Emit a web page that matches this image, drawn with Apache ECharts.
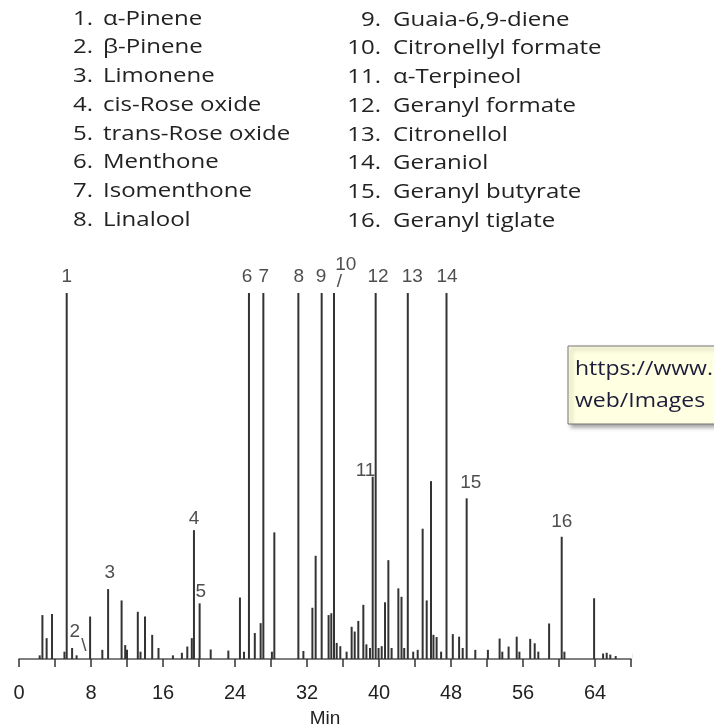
<!DOCTYPE html>
<html>
<head>
<meta charset="utf-8">
<title>Chromatogram</title>
<script src="https://cdn.jsdelivr.net/npm/echarts@6/dist/echarts.min.js"></script>
<style>html,body{margin:0;padding:0;background:#fff;}</style>
</head>
<body>
<div id="main" style="width:714px;height:727px;"></div>
<script type="text/javascript">
    // compound list (legend)
    var compoundNames = [
        'α-Pinene', 'β-Pinene', 'Limonene', 'cis-Rose oxide', 'trans-Rose oxide',
        'Menthone', 'Isomenthone', 'Linalool', 'Guaia-6,9-diene', 'Citronellyl formate',
        'α-Terpineol', 'Geranyl formate', 'Citronellol', 'Geraniol', 'Geranyl butyrate',
        'Geranyl tiglate'
    ];

    // retention time (min) of every peak
    var peakTimes = [
        2.3, 2.6, 3.07, 3.67, 5.05, 5.3, 5.9, 6.4, 7.9, 9.26,
        9.9, 11.4, 11.8, 12.0, 13.2, 13.5, 14.0, 14.8, 15.5, 17.1,
        18.1, 18.7, 19.2, 19.44, 20.07, 21.3, 23.26, 24.55, 25.0, 25.55,
        26.2, 26.85, 27.15, 28.1, 28.37, 31.04, 31.6, 32.6, 32.96, 33.63,
        34.4, 34.7, 35.0, 35.3, 35.7, 36.4, 36.96, 37.3, 37.7, 38.26,
        38.6, 39.0, 39.3, 39.63, 39.95, 40.3, 40.67, 41.04, 41.4, 42.15,
        42.5, 42.8, 43.2, 43.8, 44.3, 44.85, 45.3, 45.78, 46.05, 46.4,
        46.9, 47.5, 48.2, 48.9, 49.3, 49.74, 50.7, 52.1, 53.4, 53.7,
        54.4, 55.3, 55.6, 56.8, 57.3, 57.7, 58.9, 60.3, 60.6, 63.9,
        64.9, 65.3, 65.7, 66.3, 68.3
    ];
    // peak height (% of full scale; 100 = off scale)
    var peakHeights = [
        1.0, 12.0, 5.7, 12.3, 2.0, 100, 3.0, 1.0, 11.6, 2.5,
        19.1, 16.0, 3.8, 2.5, 12.9, 2.0, 11.6, 6.6, 3.0, 1.0,
        1.7, 3.4, 5.7, 35.2, 15.2, 2.6, 2.3, 16.8, 2.0, 100,
        7.1, 9.8, 100, 2.0, 34.6, 100, 2.2, 14.0, 28.2, 100,
        12.0, 12.5, 100, 4.4, 3.5, 2.0, 8.8, 7.5, 10.4, 14.8,
        4.0, 3.0, 49.8, 100, 3.0, 3.5, 15.5, 27.0, 3.0, 19.3,
        17.0, 3.0, 100, 2.0, 2.5, 35.6, 16.0, 48.6, 6.6, 6.0,
        2.0, 100, 6.8, 6.1, 3.0, 43.9, 2.5, 2.5, 5.6, 2.0,
        3.4, 6.1, 2.0, 5.5, 4.3, 2.0, 9.7, 33.4, 2.0, 16.6,
        1.5, 1.7, 1.2, 0.8, 1.5
    ];

    // peak number labels
    var labelTexts = ['1', '2', '\\', '3', '4', '5', '6', '7', '8', '9', '10', '/', '11', '12', '13', '14', '15', '16'];
    var labelTimes = [5.3, 6.2, 7.2, 10.1, 19.45, 20.2, 25.35, 27.2, 31.1, 33.55, 36.3, 35.6, 38.5, 39.9, 43.7, 47.55, 50.2, 60.3];
    var labelHeights = [104.4, 7.4, 3.6, 23.6, 38.4, 18.4, 104.4, 104.4, 104.4, 104.4, 107.7, 103, 51.3, 104.4, 104.4, 104.4, 48.2, 37.4];

    var myChart = echarts.init(document.getElementById('main'));

    var peakData = peakTimes.map(function (t, i) { return [t, peakHeights[i]]; });
    var labelData = labelTexts.map(function (s, i) {
        return { name: s, value: [labelTimes[i], labelHeights[i]] };
    });

    // legend text, two columns (source image is a bit stretched sideways)
    var legendFont = '20px "Open Sans"';
    var graphics = [];
    compoundNames.forEach(function (name, i) {
        var col = i < 8 ? 0 : 1;
        var row = i % 8;
        var y = (col === 0 ? 19 : 20) + row * 28.7;
        graphics.push({
            type: 'text', x: col === 0 ? 93 : 381, y: y, scaleX: 1.2,
            style: { text: (i + 1) + '.', font: legendFont, fill: '#222', align: 'right', verticalAlign: 'middle' }
        });
        graphics.push({
            type: 'text', x: col === 0 ? 103 : 393, y: y, scaleX: 1.2,
            style: { text: name, font: legendFont, fill: '#222', verticalAlign: 'middle' }
        });
    });
    // link tooltip left on the screenshot
    graphics.push({
        type: 'group', x: 568, y: 346,
        children: [
            { type: 'rect', shape: { x: 0, y: 0, width: 160, height: 78 },
              style: { fill: '#ffffe1', stroke: '#767676', lineWidth: 1,
                       shadowBlur: 4, shadowOffsetX: 3, shadowOffsetY: 3, shadowColor: 'rgba(0,0,0,0.35)' } },
            { type: 'text', x: 7, y: 23, scaleX: 1.15,
              style: { text: 'https://www.', font: '20px "Open Sans"', fill: '#1c1c3a', verticalAlign: 'middle' } },
            { type: 'text', x: 7, y: 55, scaleX: 1.15,
              style: { text: 'web/Images', font: '20px "Open Sans"', fill: '#1c1c3a', verticalAlign: 'middle' } }
        ]
    });

    option = {
        backgroundColor: '#fff',
        animation: false,
        grid: { left: 19, right: 83, top: 293, bottom: 68, outerBoundsMode: 'none', containLabel: false },
        xAxis: [{
            type: 'value',
            min: 0,
            max: 68,
            interval: 4,
            offset: 11,
            name: 'Min',
            nameLocation: 'middle',
            nameGap: 39,
            nameTextStyle: { fontFamily: 'Liberation Sans', fontSize: 19, color: '#222' },
            axisLine: { show: false },
            axisTick: { show: true, length: 8, lineStyle: { color: '#333', width: 1.5 } },
            axisLabel: {
                margin: 13,
                fontFamily: 'Liberation Sans', fontSize: 20, color: '#222',
                formatter: function (v) { return v % 8 === 0 ? v : ''; }
            },
            splitLine: { show: false }
        }, {
            type: 'value',
            min: 0,
            max: 68,
            position: 'bottom',
            axisLine: { show: true, lineStyle: { color: '#555', width: 1.5 } },
            axisTick: { show: false },
            axisLabel: { show: false },
            splitLine: { show: false }
        }],
        yAxis: { type: 'value', min: 0, max: 100, show: false },
        graphic: graphics,
        series: [{
            type: 'bar',
            data: peakData,
            barWidth: 2,
            itemStyle: { color: '#333' },
            silent: true
        }, {
            type: 'scatter',
            data: labelData,
            symbolSize: 1,
            itemStyle: { color: 'transparent' },
            clip: false,
            silent: true,
            label: {
                show: true,
                position: 'inside',
                formatter: '{b}',
                fontFamily: 'Liberation Sans',
                fontSize: 19,
                color: '#222'
            }
        }]
    };

    myChart.setOption(option);
</script>
</body>
</html>
